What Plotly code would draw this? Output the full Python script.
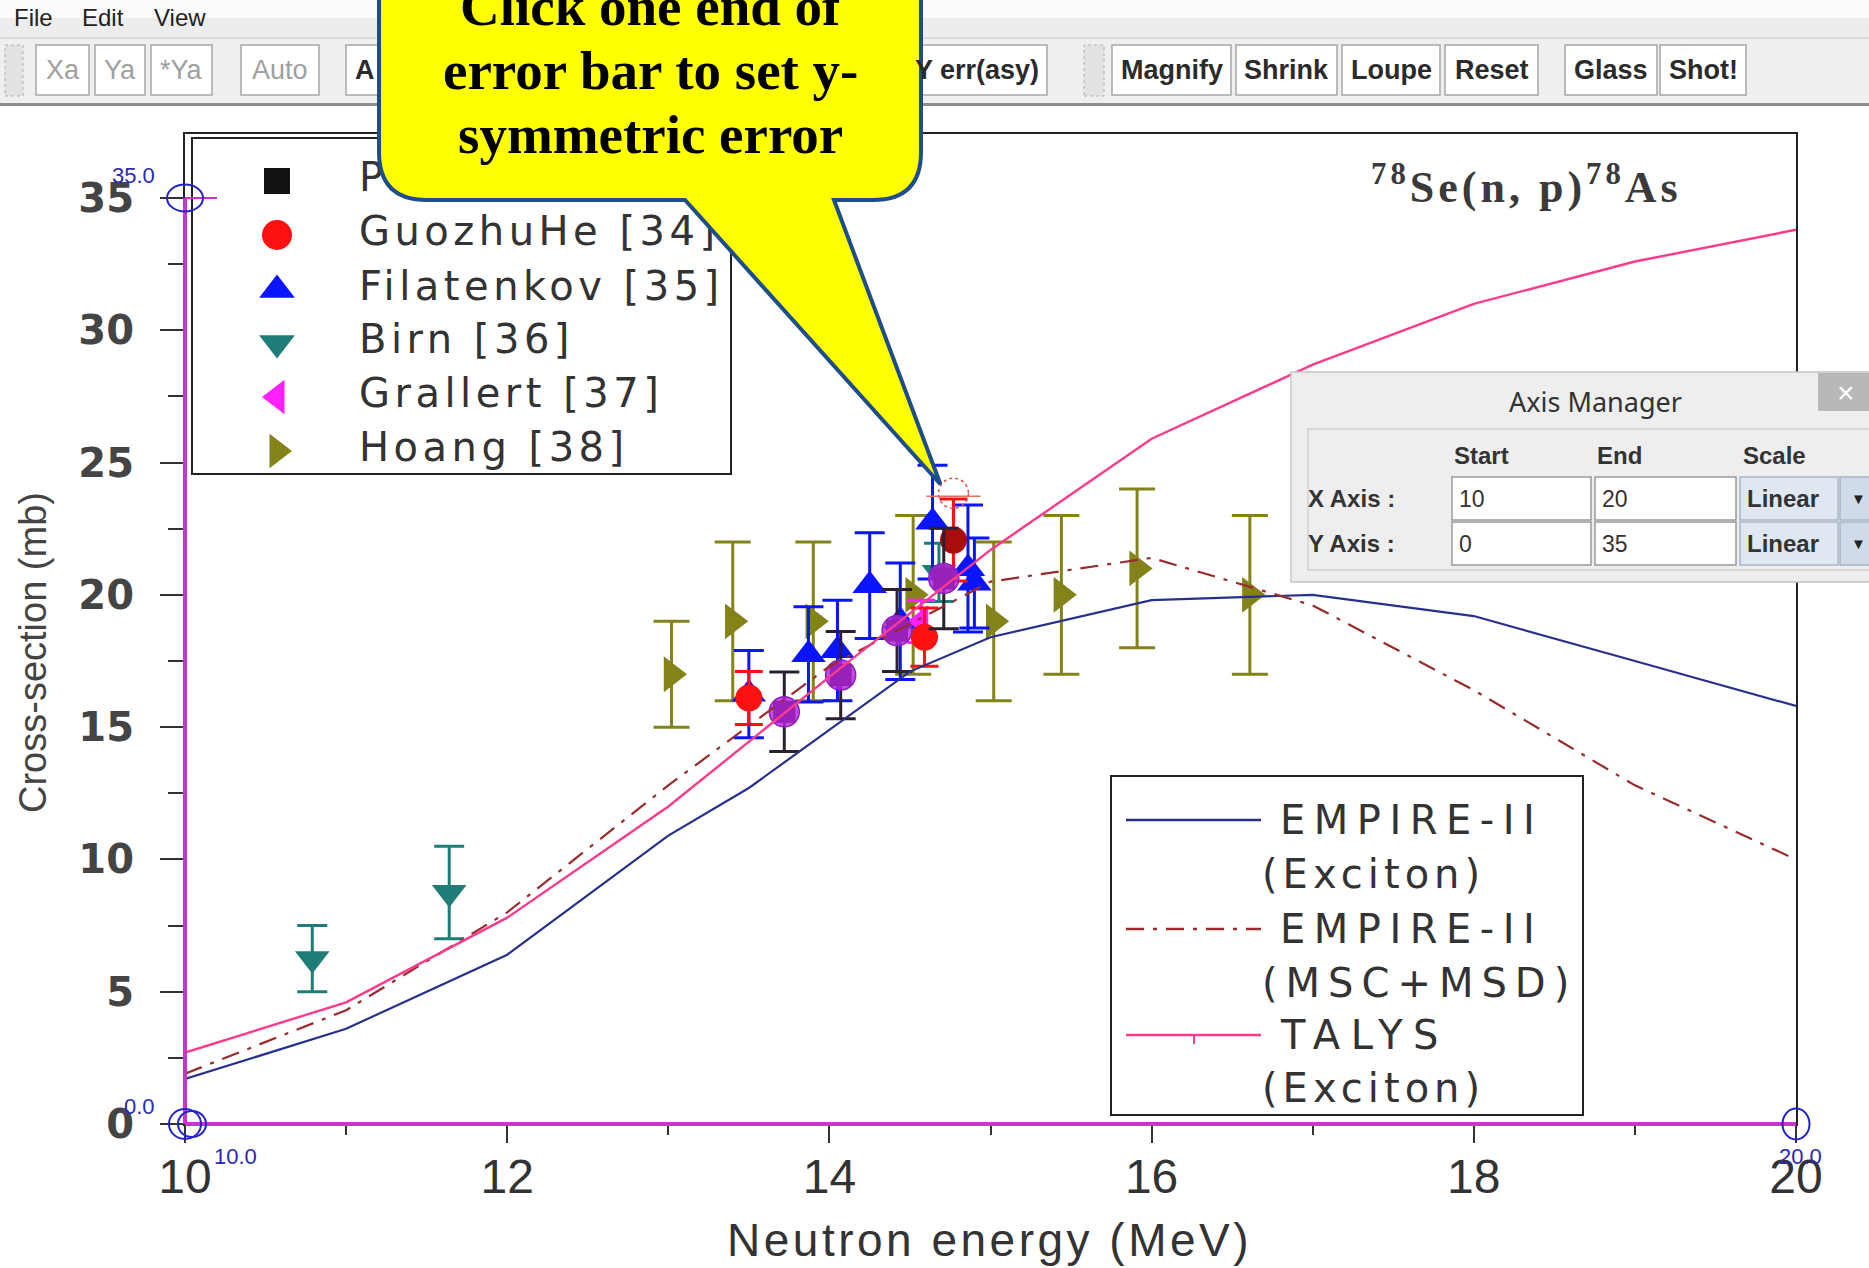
"""
78Se(n,p)78As cross-section, as seen inside the digitizer window
"""

import plotly.graph_objects as go

# ---- data ----
energy = [10, 11, 12, 13, 14, 15, 16, 17, 18, 19, 20]
talys_xs = [2.7, 4.6, 7.8, 12.0, 16.9, 21.7, 25.9, 28.7, 31.0, 32.6, 33.8]
msd_xs = [1.9, 4.3, 8.0, 12.8, 17.3, 20.5, 21.4, 19.6, 16.4, 12.8, 10.0]

exc_energy = [10, 11, 12, 13, 13.5, 14, 14.5, 15, 16, 17, 18, 19, 20]
exc_xs = [1.7, 3.6, 6.4, 10.9, 12.7, 14.9, 17.1, 18.4, 19.8, 20.0, 19.2, 17.5, 15.8]

present_x = [13.72, 14.07, 14.42, 14.71]
present_y = [15.58, 16.97, 18.65, 20.62]
present_err = [1.5, 1.65, 1.55, 1.9]

guozhu_x = [13.50, 14.59, 14.77]
guozhu_y = [16.10, 18.40, 22.07]
guozhu_err = [1.00, 1.10, 1.55]

filat_x = [13.50, 13.87, 14.05, 14.25, 14.44, 14.64, 14.86, 14.90]
filat_y = [16.25, 17.75, 17.90, 20.35, 19.00, 22.75, 21.00, 20.45]
filat_err = [1.65, 1.80, 1.90, 2.00, 2.20, 2.15, 2.40, 1.70]

birn_x = [10.79, 11.64, 14.68]
birn_y = [6.25, 8.75, 20.85]
birn_err = [1.25, 1.75, 1.10]

grallert_x = [14.57]
grallert_y = [19.00]
grallert_err = [0.80]

hoang_x = [13.02, 13.40, 13.90, 14.52, 15.02, 15.44, 15.91, 16.61]
hoang_y = [17.0, 19.0, 19.0, 20.0, 19.0, 20.0, 21.0, 20.0]
hoang_err = [2.0, 3.0, 3.0, 3.0, 3.0, 3.0, 3.0, 3.0]

legend1_labels = ["Present work", "GuozhuHe [34]", "Filatenkov [35]",
                  "Birn [36]", "Grallert [37]", "Hoang [38]"]
legend2_labels = ["EMPIRE-II", "(Exciton)", "EMPIRE-II", "(MSC+MSD)", "TALYS", "(Exciton)"]

x_ticks = [10, 12, 14, 16, 18, 20]
x_minor = [11, 13, 15, 17, 19]
y_ticks = [0, 5, 10, 15, 20, 25, 30, 35]
y_minor = [2.5, 7.5, 12.5, 17.5, 22.5, 27.5, 32.5]

# digitizer calibration and cursor
X_RANGE = [10, 20]
Y_CAL = [0, 35]
cursor = (14.77, 23.84)

toolbar_labels = ["Xa", "Ya", "*Ya", "Auto", "A", "Y err(asy)",
                  "Magnify", "Shrink", "Loupe", "Reset", "Glass", "Shot!"]

# ---- page geometry (pixels) ----
W, H = 1869, 1268
L, R, T, B = 185, 73, 134, 144
PW, PH = W - L - R, H - T - B
Y_TOP = 37.42  # top of the scanned frame, above 35


def xpx(x):
    return L + (x - X_RANGE[0]) / (X_RANGE[1] - X_RANGE[0]) * PW


def ypx(y):
    return H - B - y / Y_TOP * PH


def xdata(px):
    return X_RANGE[0] + (px - L) / PW * (X_RANGE[1] - X_RANGE[0])


def ydata(py):
    return (H - B - py) / PH * Y_TOP


def xp(px):
    return (px - L) / PW


def yp(py):
    return (H - B - py) / PH


shapes = []
annotations = []


def rect(x0, y0, x1, y1, fill, line=None, width=1, dash=None, layer="above"):
    shapes.append(dict(
        type="rect", xref="paper", yref="paper", layer=layer,
        x0=xp(x0), x1=xp(x1), y0=yp(y1), y1=yp(y0),
        fillcolor=fill,
        line=dict(color=line if line else fill, width=width if line else 0, dash=dash)))


def ellipse(cx, cy, w, h, color, width=2, dash=None):
    shapes.append(dict(
        type="circle", xref="paper", yref="paper", layer="above",
        x0=xp(cx - w / 2), x1=xp(cx + w / 2), y0=yp(cy + h / 2), y1=yp(cy - h / 2),
        line=dict(color=color, width=width, dash=dash)))


def seg(x0, y0, x1, y1, color, width=2):
    shapes.append(dict(
        type="line", xref="paper", yref="paper", layer="above",
        x0=xp(x0), x1=xp(x1), y0=yp(y0), y1=yp(y1),
        line=dict(color=color, width=width)))


def label(px, py, s, size, color="#222", family="Liberation Sans", weight="normal",
          xanchor="left", angle=0):
    annotations.append(dict(
        xref="paper", yref="paper", x=xp(px), y=yp(py), text=s, showarrow=False,
        xanchor=xanchor, yanchor="middle", textangle=angle,
        font=dict(size=size, color=color, family=family, weight=weight)))


def spaced(s, px):
    return '<span style="letter-spacing:%spx">%s</span>' % (px, s)


fig = go.Figure()

# ---- experimental data ----
series = [
    (hoang_x, hoang_y, hoang_err, "triangle-right", "#83831a", 31, 18),
    (birn_x, birn_y, birn_err, "triangle-down", "#1f7d77", 30, 15),
    (filat_x, filat_y, filat_err, "triangle-up", "#0a14ff", 30, 15),
    (grallert_x, grallert_y, grallert_err, "triangle-left", "#ff1fff", 28, 14),
    (guozhu_x, guozhu_y, guozhu_err, "circle", ["#ff1010", "#ff1010", "#a80c0c"], 27, 14),
    (present_x, present_y, present_err, "square", "#111111", 22, 15),
]
for xs, ys, err, sym, col, size, cap in series:
    ecol = col if isinstance(col, str) else col[0]
    fig.add_trace(go.Scatter(
        x=xs, y=ys, mode="markers",
        marker=dict(symbol=sym, size=size, color=col, line=dict(width=0)),
        error_y=dict(type="data", array=err, color=ecol if ecol != "#111111" else "#2a2030",
                     thickness=3, width=cap)))

fig.add_trace(go.Scatter(
    x=present_x, y=present_y, mode="markers",
    marker=dict(symbol="circle", size=30, color="rgba(180,36,222,0.82)",
                line=dict(color="#8d1fb8", width=1.5))))

# ---- model curves ----
fig.add_trace(go.Scatter(x=exc_energy, y=exc_xs, mode="lines",
                         line=dict(color="#27308f", width=2.2)))
fig.add_trace(go.Scatter(x=energy, y=msd_xs, mode="lines",
                         line=dict(color="#9a2b2b", width=2.2, dash="18px,9px,4px,9px")))
fig.add_trace(go.Scatter(x=energy, y=talys_xs, mode="lines",
                         line=dict(color="#ff3a8c", width=2.4)))

# ---- legend 1 (markers), drawn inside the scanned frame ----
rect(192, 138, 731, 474, "white", line="#222", width=2, layer="below")
leg1_rows = [181, 235, 290, 343, 397, 451]
leg1_style = [("square", "#111111", 26), ("circle", "#ff1010", 30),
              ("triangle-up", "#0a14ff", 31), ("triangle-down", "#1f7d77", 31),
              ("triangle-left", "#ff1fff", 30), ("triangle-right", "#83831a", 30)]
for row, (sym, col, size) in zip(leg1_rows, leg1_style):
    fig.add_trace(go.Scatter(x=[xdata(277)], y=[ydata(row)], mode="markers",
                             marker=dict(symbol=sym, size=size, color=col)))
fig.add_trace(go.Scatter(
    x=[xdata(359)] * len(legend1_labels), y=[ydata(r) for r in leg1_rows],
    mode="text", text=[spaced(s, 4.5) for s in legend1_labels],
    textposition="middle right",
    textfont=dict(family="DejaVu Sans", size=40, color="#333333")))

# ---- legend 2 (lines) ----
rect(1111, 776, 1583, 1115, "white", line="#222", width=2, layer="below")
leg2_lines = [(820, "#27308f", "solid"), (929, "#9a2b2b", "18px,9px,4px,9px"),
              (1035, "#ff3a8c", "solid")]
for row, col, dash in leg2_lines:
    fig.add_trace(go.Scatter(x=[xdata(1126), xdata(1261)], y=[ydata(row)] * 2,
                             mode="lines", line=dict(color=col, width=2.4, dash=dash)))
# small tick on the TALYS sample line
fig.add_trace(go.Scatter(x=[xdata(1194)], y=[ydata(1039)], mode="markers",
                         marker=dict(symbol="line-ns", size=7,
                                     line=dict(color="#ff3a8c", width=2))))
leg2_rows = [820, 874, 929, 983, 1035, 1088]
leg2_left = [1278, 1260, 1278, 1260, 1278, 1260]
leg2_spacing = [8.5, 5, 8.5, 8, 10.5, 5]
for s, row, left, sp in zip(legend2_labels, leg2_rows, leg2_left, leg2_spacing):
    label(left, row, spaced(s, sp), 40, color="#333333", family="DejaVu Sans")

# reaction label
label(1526, 184, spaced("<sup>78</sup>Se(n, p)<sup>78</sup>As", 4), 44,
      color="#3a3a3a", family="Liberation Serif", weight="bold", xanchor="center")

# axis titles of the scanned plot
label(33, 653, "Cross-section (mb)", 38, color="#444", angle=-90, xanchor="center")
label(989, 1240, spaced("Neutron energy (MeV)", 3.5), 46, color="#333", xanchor="center")

# ---- digitizer axes and calibration marks ----
x0p, x1p = xpx(X_RANGE[0]), xpx(X_RANGE[1])
y0p, y1p = ypx(Y_CAL[0]), ypx(Y_CAL[1])
seg(x0p, y0p, x1p, y0p, "#c935c9", 4)
seg(x0p, y0p, x0p, y1p, "#c935c9", 4)
seg(x0p, y1p, x0p + 32, y1p, "#c935c9", 2)
ellipse(x0p, y0p, 32, 30, "#2323c8")
ellipse(x0p + 7, y0p, 28, 26, "#2323c8")
ellipse(x1p, y0p, 27, 31, "#2323c8")
ellipse(x0p, y1p, 36, 27, "#2323c8")
blue = "#2a2ab4"
label(x0p - 28, y1p - 23, "%.1f" % Y_CAL[1], 22, color=blue, xanchor="right")
label(x0p - 28, y0p - 18, "%.1f" % Y_CAL[0], 22, color=blue, xanchor="right")
label(x0p + 27, y0p + 32, "%.1f" % X_RANGE[0], 22, color=blue)
label(x1p + 4, y0p + 32, "%.1f" % X_RANGE[1], 22, color=blue, xanchor="center")

# cursor on the selected error bar end
cx, cy = xpx(cursor[0]), ypx(cursor[1])
ellipse(cx, cy, 30, 30, "#d85050", width=1.5, dash="dot")
seg(cx - 27, cy + 3, cx + 27, cy + 3, "#e07070", 1.5)

# ---- window chrome: menu bar and toolbar ----
rect(0, 0, W, 18, "#fbfbfb")
rect(0, 18, W, 37, "#ededed")
label(12, 18, "File", 24, color="#222")
label(80, 18, "Edit", 24, color="#222")
label(152, 18, "View", 24, color="#222")
rect(0, 37, W, 104, "#efefef")
rect(0, 37, W, 39, "#dcdcdc")
rect(0, 103, W, 106, "#8e8e8e")
rect(5, 45, 23, 96, "#e2e2e2", line="#b0b0b0", dash="dot")
rect(1084, 45, 1104, 96, "#e2e2e2", line="#b0b0b0", dash="dot")

button_spans = [(36, 89), (95, 145), (151, 212), (241, 319), (346, 470), (880, 1047),
                (1112, 1231), (1236, 1337), (1342, 1440), (1445, 1538), (1565, 1657),
                (1660, 1746)]
for i, (name, (b0, b1)) in enumerate(zip(toolbar_labels, button_spans)):
    rect(b0, 45, b1, 95, "white", line="#a6a6a6", width=1.5)
    disabled = i < 4
    col = "#a0a0a0" if disabled else "#2b2b2b"
    wt = "normal" if disabled else "bold"
    if name == "A":
        label(353, 70, name, 27, color=col, weight=wt)
    elif name == "Y err(asy)":
        label(1041, 70, name, 27, color=col, weight=wt, xanchor="right")
    else:
        label((b0 + b1) / 2, 70, name, 27, color=col, weight=wt, xanchor="center")

# ---- Axis Manager dialog ----
rect(1291, 372, W + 5, 582, "#eeeeee", line="#c6c6c6", width=1.5)
rect(1818, 373, W + 2, 411, "#b8b8b8")
label(1846, 392, "×", 30, color="white", xanchor="center")
label(1595, 402, "Axis Manager", 27, color="#333", family="Noto Sans", xanchor="center")
rect(1308, 429, W + 5, 570, "#eeeeee", line="#d0d0d0", width=1.5)
label(1452, 455, "Start", 24, color="#333", weight="bold")
label(1595, 455, "End", 24, color="#333", weight="bold")
label(1741, 455, "Scale", 24, color="#333", weight="bold")
rows = [(477, 520, "X Axis :", X_RANGE), (522, 565, "Y Axis :", Y_CAL)]
for top, bot, name, rng in rows:
    mid = (top + bot) / 2
    label(1306, mid, name, 24, color="#333", weight="bold")
    rect(1452, top, 1591, bot, "white", line="#9a9a9a", width=1.5)
    rect(1595, top, 1736, bot, "white", line="#9a9a9a", width=1.5)
    rect(1740, top, 1838, bot, "#dfe7f1", line="#a9b6c6", width=1.5)
    rect(1840, top, W + 5, bot, "#cfdbe9", line="#a9b6c6", width=1.5)
    label(1457, mid, str(rng[0]), 23, color="#333")
    label(1600, mid, str(rng[1]), 23, color="#333")
    label(1745, mid, "Linear", 24, color="#333", weight="bold")
    label(1858, mid, "▼", 15, color="#222", xanchor="center")

# ---- callout bubble ----
tipx, tipy = cx - 13, cy - 9
pts = "M {},{} L {},{} L {},{} Q {},{} {},{} L {},{} L {},{} L {},{} L {},{} Q {},{} {},{} Z"
path = pts.format(xp(379), yp(-80), xp(921), yp(-80), xp(921), yp(152),
                  xp(921), yp(200), xp(873), yp(200), xp(834), yp(200),
                  xp(tipx), yp(tipy), xp(685), yp(200), xp(427), yp(200),
                  xp(379), yp(200), xp(379), yp(152))
shapes.append(dict(type="path", xref="paper", yref="paper", layer="above", path=path,
                   fillcolor="#ffff00", line=dict(color="#1d4d8a", width=4)))
for s, row in zip(["Click one end of", "error bar to set y-", "symmetric error"], [6, 70, 134]):
    label(650, row, s, 55, color="black", family="Liberation Serif", weight="bold",
          xanchor="center")

fig.update_layout(
    width=W, height=H,
    margin=dict(l=L, r=R, t=T, b=B, pad=0),
    paper_bgcolor="white", plot_bgcolor="white",
    showlegend=False, hovermode=False,
    shapes=shapes, annotations=annotations,
    xaxis=dict(range=X_RANGE, tickvals=x_ticks, ticks="outside", ticklen=17, tickwidth=2,
               tickcolor="#333", showline=True, linecolor="#222", linewidth=2, mirror=True,
               showgrid=False, zeroline=False, ticklabelstandoff=-8,
               tickfont=dict(family="Liberation Sans", size=48, color="#333"),
               minor=dict(tickvals=x_minor, ticks="outside", ticklen=9, tickwidth=2,
                          tickcolor="#333")),
    yaxis=dict(range=[0, Y_TOP], tickvals=y_ticks, ticks="outside", ticklen=23, tickwidth=2,
               tickcolor="#333", showline=True, linecolor="#222", linewidth=2, mirror=True,
               showgrid=False, zeroline=False, ticklabelstandoff=18,
               tickfont=dict(family="DejaVu Sans", size=40, color="#444", weight="bold"),
               minor=dict(tickvals=y_minor, ticks="outside", ticklen=15, tickwidth=2,
                          tickcolor="#333")),
)

# page body has a default 8px margin; drop it so the figure fills the window
fig.write_html("out.html", config={"displayModeBar": False},
               post_script="document.body.style.margin = '0';")
